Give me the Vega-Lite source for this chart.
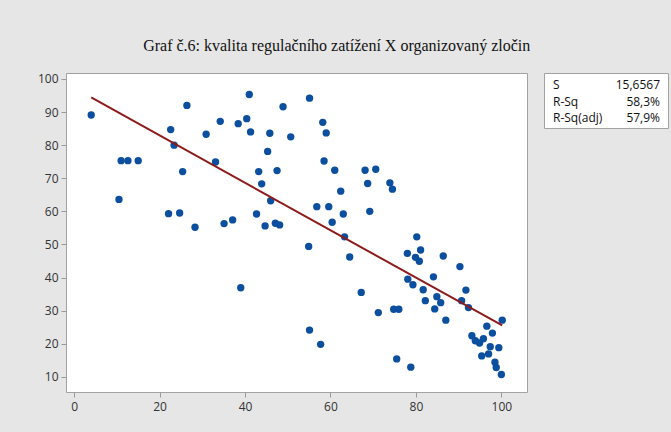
{
  "$schema": "https://vega.github.io/schema/vega-lite/v6.json",
  "background": "#e6e6e6",
  "padding": {"left": 36, "top": 38, "right": 5, "bottom": 19},
  "title": {
    "text": "Graf č.6: kvalita regulačního zatížení X organizovaný zločin",
    "font": "Liberation Serif",
    "fontSize": 16,
    "fontWeight": "normal",
    "color": "#111111",
    "anchor": "middle",
    "dx": -16,
    "offset": 18
  },
  "config": {
    "view": {"stroke": "#a3a3a3", "strokeWidth": 1, "fill": "#ffffff"},
    "axis": {
      "domain": false,
      "grid": false,
      "ticks": true,
      "tickColor": "#9a9a9a",
      "tickSize": 5,
      "labelFont": "Open Sans",
      "labelFontSize": 12,
      "labelColor": "#333333",
      "title": null
    }
  },
  "datasets": {
    "points": [
      {"x": 4.0, "y": 89.1}, {"x": 10.5, "y": 63.6}, {"x": 11.0, "y": 75.3}, {"x": 12.6, "y": 75.3},
      {"x": 15.0, "y": 75.3}, {"x": 22.1, "y": 59.3}, {"x": 22.6, "y": 84.7}, {"x": 23.4, "y": 80.0},
      {"x": 24.7, "y": 59.5}, {"x": 25.4, "y": 72.0}, {"x": 26.4, "y": 92.0}, {"x": 28.3, "y": 55.2},
      {"x": 30.9, "y": 83.3}, {"x": 33.1, "y": 74.9}, {"x": 34.2, "y": 87.2}, {"x": 35.1, "y": 56.3},
      {"x": 37.1, "y": 57.4}, {"x": 38.4, "y": 86.5}, {"x": 39.0, "y": 36.9}, {"x": 40.4, "y": 88.0},
      {"x": 41.0, "y": 95.3}, {"x": 41.3, "y": 84.0}, {"x": 42.7, "y": 59.2}, {"x": 43.2, "y": 72.0},
      {"x": 43.9, "y": 68.3}, {"x": 44.7, "y": 55.6}, {"x": 45.3, "y": 78.1}, {"x": 45.8, "y": 83.6},
      {"x": 46.0, "y": 63.2}, {"x": 47.1, "y": 56.4}, {"x": 47.5, "y": 72.3}, {"x": 48.1, "y": 55.9},
      {"x": 48.9, "y": 91.6}, {"x": 50.7, "y": 82.5}, {"x": 54.9, "y": 49.4}, {"x": 55.1, "y": 94.2},
      {"x": 55.1, "y": 24.1}, {"x": 56.8, "y": 61.4}, {"x": 57.7, "y": 19.8}, {"x": 58.2, "y": 86.9},
      {"x": 58.5, "y": 75.2}, {"x": 59.0, "y": 83.7}, {"x": 59.6, "y": 61.4}, {"x": 60.4, "y": 56.7},
      {"x": 61.0, "y": 72.4}, {"x": 62.4, "y": 66.1}, {"x": 63.0, "y": 59.2}, {"x": 63.3, "y": 52.3},
      {"x": 64.5, "y": 46.2}, {"x": 67.2, "y": 35.5}, {"x": 68.1, "y": 72.4}, {"x": 68.7, "y": 68.4},
      {"x": 69.2, "y": 60.0}, {"x": 70.6, "y": 72.7}, {"x": 71.2, "y": 29.4}, {"x": 73.9, "y": 68.6},
      {"x": 74.5, "y": 66.7}, {"x": 74.8, "y": 30.4}, {"x": 75.5, "y": 15.4}, {"x": 76.0, "y": 30.4},
      {"x": 78.0, "y": 47.3}, {"x": 78.1, "y": 39.5}, {"x": 78.8, "y": 12.9}, {"x": 79.3, "y": 37.8},
      {"x": 79.9, "y": 46.1}, {"x": 80.2, "y": 52.3}, {"x": 80.8, "y": 44.9}, {"x": 81.1, "y": 48.3},
      {"x": 81.7, "y": 36.3}, {"x": 82.2, "y": 33.0}, {"x": 84.1, "y": 40.2}, {"x": 84.4, "y": 30.5},
      {"x": 84.9, "y": 34.2}, {"x": 85.8, "y": 32.4}, {"x": 86.4, "y": 46.5}, {"x": 87.0, "y": 27.1},
      {"x": 90.3, "y": 43.3}, {"x": 90.7, "y": 33.0}, {"x": 91.7, "y": 36.2}, {"x": 92.3, "y": 30.9},
      {"x": 93.1, "y": 22.4}, {"x": 93.9, "y": 20.9}, {"x": 94.9, "y": 20.2}, {"x": 95.8, "y": 21.5},
      {"x": 95.4, "y": 16.3}, {"x": 96.6, "y": 25.3}, {"x": 97.0, "y": 16.9}, {"x": 97.4, "y": 19.1},
      {"x": 97.9, "y": 23.2}, {"x": 98.5, "y": 14.4}, {"x": 98.8, "y": 12.8}, {"x": 99.4, "y": 18.8},
      {"x": 100.0, "y": 10.7}, {"x": 100.2, "y": 27.1}
    ],
    "fit": [
      {"x": 4.0, "y": 94.4},
      {"x": 100.2, "y": 25.5}
    ],
    "stats": [
      {"row": 1, "label": "S", "value": "15,6567"},
      {"row": 2, "label": "R-Sq", "value": "58,3%"},
      {"row": 3, "label": "R-Sq(adj)", "value": "57,9%"}
    ]
  },
  "spacing": 15,
  "hconcat": [
    {
      "width": 461,
      "height": 319,
      "encoding": {
        "x": {
          "field": "x",
          "type": "quantitative",
          "scale": {"domain": [-1.9, 106], "nice": false, "zero": false},
          "axis": {"values": [0, 20, 40, 60, 80, 100], "labelPadding": 4}
        },
        "y": {
          "field": "y",
          "type": "quantitative",
          "scale": {"domain": [5.4, 101.8], "nice": false, "zero": false},
          "axis": {"values": [10, 20, 30, 40, 50, 60, 70, 80, 90, 100], "labelPadding": 3}
        }
      },
      "layer": [
        {
          "data": {"name": "points"},
          "mark": {"type": "circle", "size": 54, "color": "#0c4f9f", "opacity": 1}
        },
        {
          "data": {"name": "fit"},
          "mark": {"type": "line", "color": "#8e1b1b", "strokeWidth": 2}
        }
      ]
    },
    {
      "width": 124,
      "height": 55,
      "data": {"name": "stats"},
      "encoding": {
        "x": {
          "datum": "name",
          "type": "nominal",
          "scale": {"type": "point", "domain": ["name", "value"], "padding": 0},
          "axis": null
        },
        "y": {
          "field": "row",
          "type": "ordinal",
          "scale": {"type": "point", "padding": 0.62},
          "axis": null
        }
      },
      "layer": [
        {
          "mark": {"type": "text", "align": "left", "baseline": "middle", "dx": 9, "dy": 1, "font": "Open Sans", "fontSize": 12, "color": "#111111"},
          "encoding": {"text": {"field": "label"}}
        },
        {
          "mark": {"type": "text", "align": "right", "baseline": "middle", "dx": -8, "dy": 1, "font": "Open Sans", "fontSize": 12, "color": "#111111"},
          "encoding": {
            "x": {"datum": "value", "type": "nominal"},
            "text": {"field": "value"}
          }
        }
      ]
    }
  ]
}
